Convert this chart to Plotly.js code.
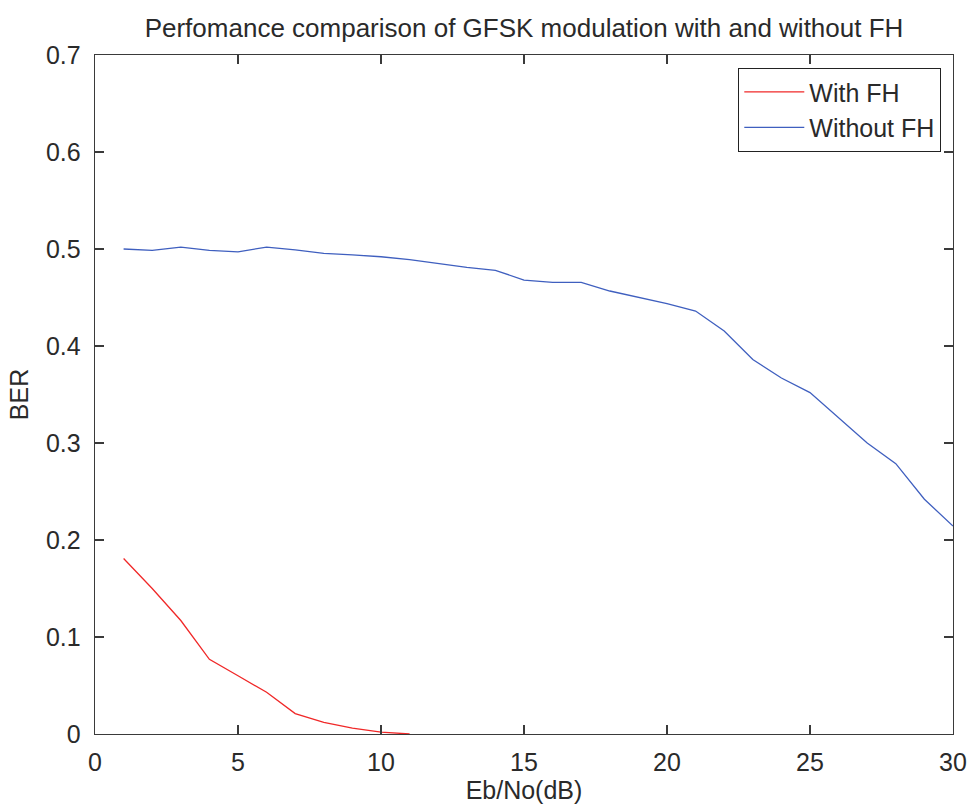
<!DOCTYPE html>
<html>
<head>
<meta charset="utf-8">
<script src="https://cdn.plot.ly/plotly-3.0.1.min.js"></script>
<style>html,body{margin:0;padding:0;background:#fff;}#chart{width:973px;height:807px;}</style>
</head>
<body>
<div id="chart"></div>
<script>
// Eb/No (dB) values
var ebnoWithFH = [1, 2, 3, 4, 5, 6, 7, 8, 9, 10, 11];
var berWithFH = [0.181, 0.150, 0.117, 0.077, 0.060, 0.043, 0.021, 0.012, 0.006, 0.002, 0.0];

var ebnoWithoutFH = [1, 2, 3, 4, 5, 6, 7, 8, 9, 10, 11, 12, 13, 14, 15, 16, 17, 18, 19, 20, 21, 22, 23, 24, 25, 26, 27, 28, 29, 30];
var berWithoutFH = [0.500, 0.4985, 0.502, 0.4985, 0.497, 0.502, 0.499, 0.4955, 0.494, 0.492, 0.489, 0.485, 0.481, 0.478, 0.468, 0.4656, 0.4656, 0.4567, 0.4505, 0.4436, 0.436, 0.4155, 0.386, 0.367, 0.352, 0.326, 0.300, 0.2787, 0.242, 0.2144];

var seriesNames = ["With FH", "Without FH"];
var xTickVals = [0, 5, 10, 15, 20, 25, 30];
var yTickVals = [0, 0.1, 0.2, 0.3, 0.4, 0.5, 0.6, 0.7];
var yTickText = ["0", "0.1", "0.2", "0.3", "0.4", "0.5", "0.6", "0.7"];

var fontFam = "Liberation Sans, Arial, sans-serif";
var txtCol = "#2a2a2a";
var axCol = "#3a3a3a";

var traces = [
  {x: ebnoWithFH, y: berWithFH, name: seriesNames[0], type: "scatter", mode: "lines",
   line: {color: "#f02828", width: 1.3}},
  {x: ebnoWithoutFH, y: berWithoutFH, name: seriesNames[1], type: "scatter", mode: "lines",
   line: {color: "#3f5fbf", width: 1.3}}
];

var axisCommon = {
  showgrid: false, zeroline: false, showline: true, linecolor: axCol, linewidth: 1.3,
  mirror: "ticks", ticks: "inside", ticklen: 9, tickwidth: 1.3, tickcolor: axCol,
  tickfont: {family: fontFam, size: 25, color: txtCol}
};

var layout = {
  width: 973, height: 807,
  margin: {l: 95, r: 20, t: 55, b: 73},
  paper_bgcolor: "#fff", plot_bgcolor: "#fff",
  font: {family: fontFam, color: txtCol},
  title: {text: "Perfomance comparison of GFSK modulation with and without FH",
          font: {family: fontFam, size: 26, color: txtCol},
          x: 0.5, xref: "paper", xanchor: "center", y: 0.965, yref: "container", yanchor: "middle"},
  xaxis: Object.assign({}, axisCommon, {
    range: [0, 30], tickvals: xTickVals, ticklabelstandoff: 6,
    title: {text: "Eb/No(dB)", font: {family: fontFam, size: 25, color: txtCol}, standoff: 6}
  }),
  yaxis: Object.assign({}, axisCommon, {
    range: [0, 0.7], tickvals: yTickVals, ticktext: yTickText, ticklabelstandoff: 8,
    title: {text: "BER", font: {family: fontFam, size: 25, color: txtCol}, standoff: 10}
  }),
  showlegend: true,
  legend: {
    x: 0.986, xanchor: "right", y: 0.981, yanchor: "top",
    bgcolor: "#fff", bordercolor: "#222", borderwidth: 1.3,
    font: {family: fontFam, size: 25, color: txtCol},
    itemwidth: 60, tracegroupgap: 0
  }
};

Plotly.newPlot("chart", traces, layout, {displayModeBar: false, staticPlot: true});
</script>
</body>
</html>
